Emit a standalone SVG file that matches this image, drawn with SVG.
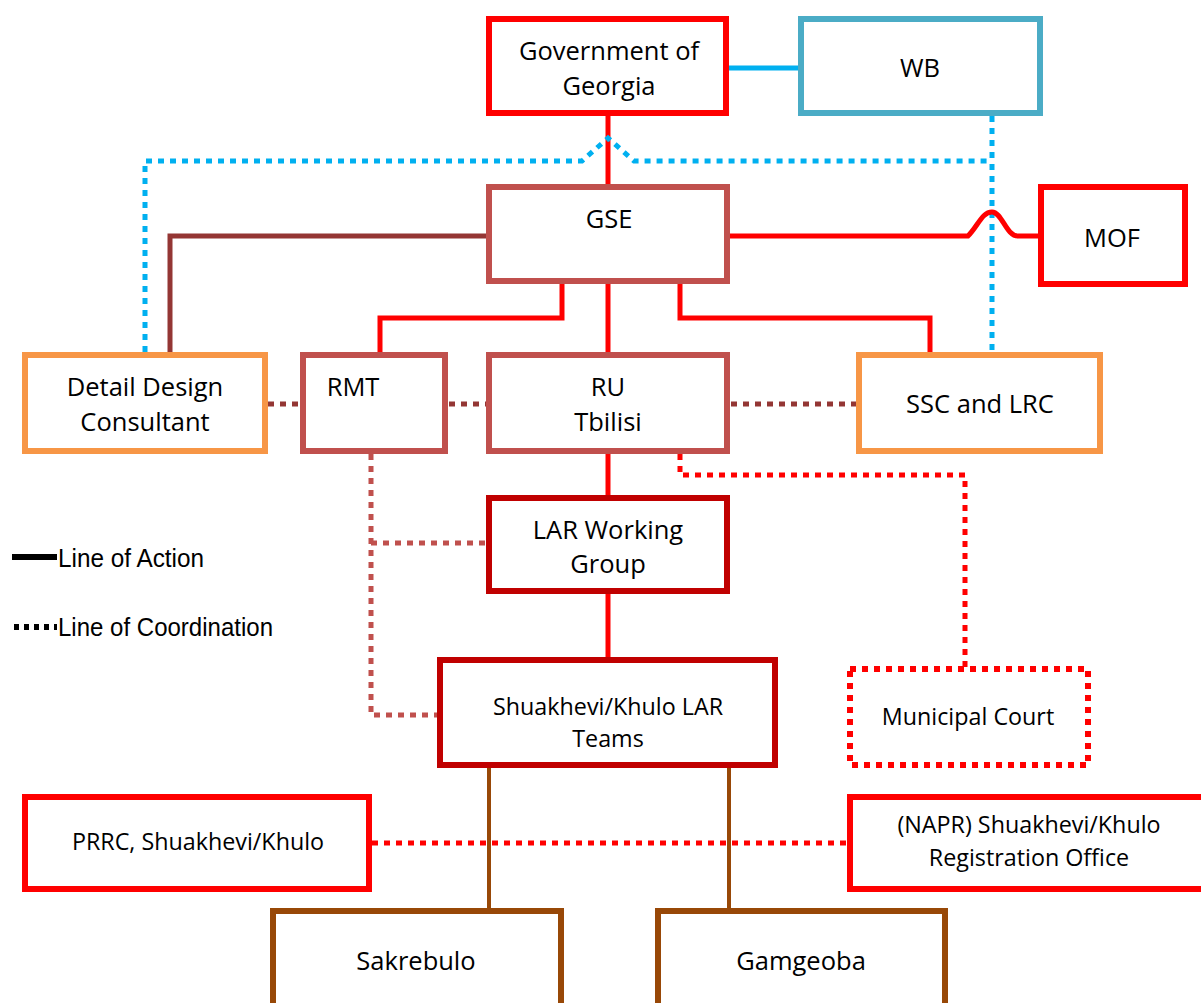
<svg xmlns="http://www.w3.org/2000/svg" width="1201" height="1003" viewBox="0 0 1201 1003">
<style>
rect{fill:#fff;stroke-width:6}
text{font-family:"Open Sans","Liberation Sans",sans-serif;font-size:25.5px;fill:#000;text-anchor:middle}
.sm{font-size:23.3px}
.leg{font-family:"Liberation Sans",sans-serif;font-size:26px;text-anchor:start}
.c path,.c line{fill:none}
.red{stroke:#FF0000;stroke-width:5}
.redd{stroke:#FF0000;stroke-width:5;stroke-dasharray:6 6}
.blu{stroke:#00B0F0;stroke-width:5}
.blud{stroke:#00B0F0;stroke-width:5;stroke-dasharray:6 6}
.brn{stroke:#943634;stroke-width:5}
.brnd{stroke:#943634;stroke-width:5;stroke-dasharray:6 6}
.rosd{stroke:#C0504D;stroke-width:5;stroke-dasharray:6 6}
.ora{stroke:#984807;stroke-width:4}
</style>
<g class="c" id="connectors">
<line class="blu" x1="729" y1="68" x2="800" y2="68"/>
<line class="red" x1="608" y1="115" x2="608" y2="186"/>
<path class="blud" d="M992 116 V352"/>
<path class="blud" d="M145 352 V161 H582 L608 138 L634 161 H992"/>
<path class="brn" d="M488 236 H170 V353"/>
<path class="red" d="M729 236 H968 C978 226 982 212 992 212 C1002 212 1006 236 1018 236 H1040"/>
<path class="red" d="M562 283 V318 H380 V353"/>
<line class="red" x1="608" y1="283" x2="608" y2="353"/>
<path class="red" d="M680 283 V318 H930 V353"/>
<line class="brnd" x1="268" y1="404" x2="300" y2="404"/>
<line class="brnd" x1="449" y1="404" x2="486" y2="404"/>
<line class="brnd" x1="731" y1="404" x2="856" y2="404"/>
<path class="rosd" d="M371 454 V715 H438"/>
<line class="rosd" x1="371" y1="543" x2="486" y2="543"/>
<line class="red" x1="608" y1="453" x2="608" y2="496"/>
<path class="redd" d="M680 454 V475 H965 V668"/>
<line class="red" x1="608" y1="593" x2="608" y2="658"/>
<line class="ora" x1="489" y1="767" x2="489" y2="909"/>
<line class="ora" x1="729" y1="767" x2="729" y2="909"/>
<line class="redd" x1="372" y1="843" x2="848" y2="843"/>
</g>
<g id="gov"><rect x="489" y="19" width="237" height="94" stroke="#FF0000"/><text x="609" y="60">Government of</text><text x="609" y="95">Georgia</text></g>
<g id="wb"><rect x="801" y="19" width="239" height="94" stroke="#4BACC6"/><text x="920" y="77">WB</text></g>
<g id="gse"><rect x="489" y="187" width="238" height="94" stroke="#C0504D"/><text x="609" y="228">GSE</text></g>
<g id="mof"><rect x="1041" y="187" width="144" height="97" stroke="#FF0000"/><text x="1112" y="247">MOF</text></g>
<g id="ddc"><rect x="25" y="355" width="240" height="96" stroke="#F79646"/><text x="145" y="396">Detail Design</text><text x="145" y="431">Consultant</text></g>
<g id="rmt"><rect x="303" y="355" width="142" height="96" stroke="#C0504D"/><text x="353" y="396">RMT</text></g>
<g id="ru"><rect x="489" y="355" width="238" height="96" stroke="#C0504D"/><text x="608" y="396">RU</text><text x="608" y="431">Tbilisi</text></g>
<g id="ssc"><rect x="859" y="355" width="241" height="96" stroke="#F79646"/><text x="980" y="413">SSC and LRC</text></g>
<g id="lar"><rect x="489" y="498" width="238" height="93" stroke="#C00000"/><text x="608" y="539">LAR Working</text><text x="608" y="573">Group</text></g>
<g id="teams"><rect x="440" y="660" width="335" height="105" stroke="#C00000"/><text class="sm" x="608" y="715">Shuakhevi/Khulo LAR</text><text class="sm" x="608" y="747">Teams</text></g>
<g id="court"><rect x="850" y="669" width="238" height="96" stroke="#FF0000" stroke-width="5" stroke-dasharray="6 6"/><text class="sm" x="968" y="725">Municipal Court</text></g>
<g id="prrc"><rect x="25" y="797" width="344" height="92" stroke="#FF0000"/><text class="sm" x="198" y="850">PRRC, Shuakhevi/Khulo</text></g>
<g id="napr"><rect x="850" y="797" width="360" height="92" stroke="#FF0000"/><text class="sm" x="1029" y="833">(NAPR) Shuakhevi/Khulo</text><text class="sm" x="1029" y="866">Registration Office</text></g>
<g id="sakrebulo"><rect x="273" y="911" width="288" height="100" stroke="#984807"/><text x="416" y="970">Sakrebulo</text></g>
<g id="gamgeoba"><rect x="658" y="911" width="287" height="100" stroke="#984807"/><text x="801" y="970">Gamgeoba</text></g>
<g id="legend">
<line x1="12" y1="557" x2="57" y2="557" stroke="#000" stroke-width="6"/>
<text class="leg" x="58" y="567" textLength="146" lengthAdjust="spacingAndGlyphs">Line of Action</text>
<line x1="14" y1="627" x2="57" y2="627" stroke="#000" stroke-width="6" stroke-dasharray="5 5"/>
<text class="leg" x="58" y="636" textLength="215" lengthAdjust="spacingAndGlyphs">Line of Coordination</text>
</g>
</svg>
